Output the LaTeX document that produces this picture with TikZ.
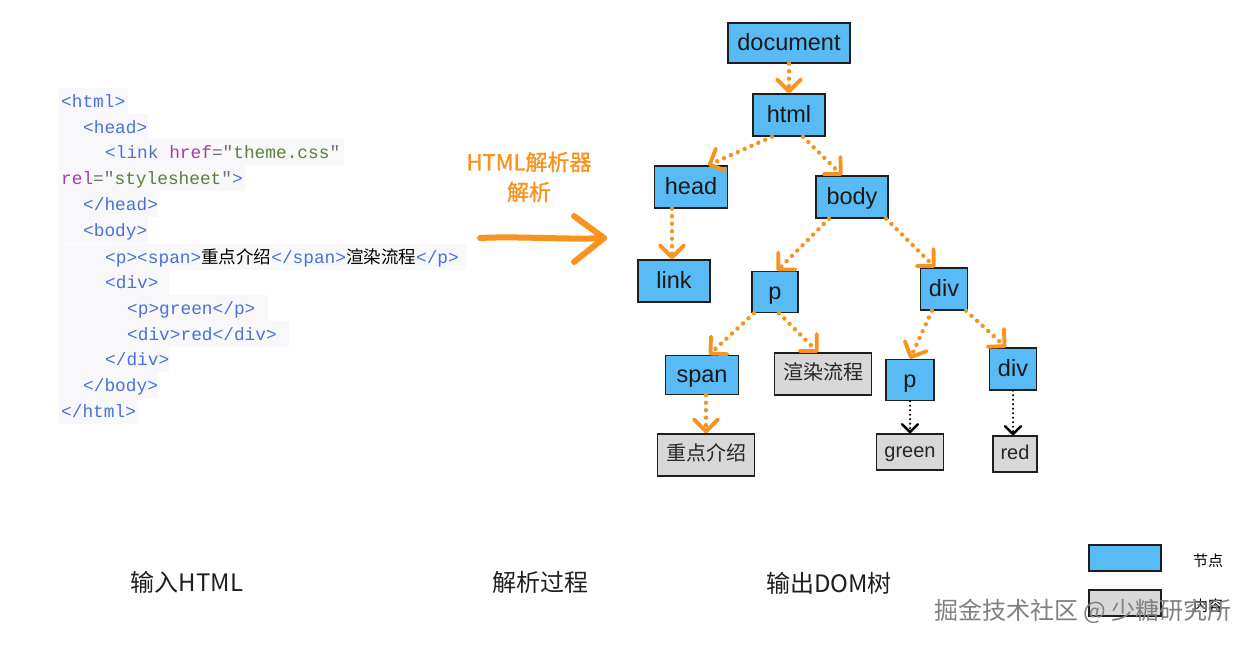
\documentclass[tikz,border=0pt]{standalone}
\usepackage{fontspec}
\setmainfont{Liberation Sans}
\newfontfamily\cjk{Noto Sans CJK SC}
\newfontfamily\cjkbold[FakeBold=1.2]{Noto Sans CJK SC}
\newfontfamily\codefont{Liberation Mono}
\usetikzlibrary{arrows.meta,calc}
\definecolor{boxblue}{HTML}{58BBF5}
\definecolor{boxgray}{HTML}{D8D8D8}
\definecolor{boxline}{HTML}{1E1E1E}
\definecolor{orangeA}{HTML}{F7931E}
\definecolor{tagblue}{HTML}{4A72D6}
\definecolor{attrpurple}{HTML}{A63CA0}
\definecolor{strgreen}{HTML}{5B7F3B}
\definecolor{eqgray}{HTML}{707070}
\definecolor{codebg}{HTML}{F8F8FA}
\newcommand{\tg}[1]{\textcolor{tagblue}{#1}}
\newcommand{\atr}[1]{\textcolor{attrpurple}{#1}}
\newcommand{\stg}[1]{\textcolor{strgreen}{#1}}
\newcommand{\eqg}[1]{\textcolor{eqgray}{#1}}
\newcommand{\cjkc}[1]{{\cjk\fontsize{17.5}{20}\selectfont\textcolor{black}{#1}}}
\tikzset{
  bnode/.style={draw=boxline, line width=1.4pt, fill=boxblue, inner sep=0pt,
    font=\fontsize{23.5}{28}\selectfont, text=black!90, text height=18pt, text depth=4pt},
  gnode/.style={draw=boxline, line width=1.4pt, fill=boxgray, inner sep=0pt,
    font=\fontsize{20}{24}\selectfont, text=black!85, text height=15pt, text depth=4pt},
  gcnode/.style={gnode, font=\cjk\fontsize{20}{24}\selectfont},
  codeline/.style={anchor=base west, inner sep=0pt, font=\codefont\fontsize{17.8}{20}\selectfont},
  oarr/.style={draw=orangeA, line width=4.4pt, dash pattern=on 0pt off 7.5pt, line cap=round,
    -{Straight Barb[length=12pt,width=24pt,line width=3.8pt,round]}},
  karr/.style={draw=black, line width=2.4pt, dash pattern=on 0pt off 4.5pt, line cap=round,
    -{Straight Barb[length=8pt,width=16pt,line width=2.4pt,round]}},
  cjklabel/.style={font=\cjk\fontsize{24}{28}\selectfont, text=black!88, inner sep=0pt},
  olabel/.style={font=\cjkbold\fontsize{22}{26}\selectfont, text=orangeA, inner sep=0pt},
}
\begin{document}
\begin{tikzpicture}[x=1pt,y=-1pt]
\useasboundingbox (0,0) rectangle (1258,646);
\fill[white] (0,0) rectangle (1258,646);

% code backgrounds
\foreach \yy/\xe in {101/128,127/148,152/344,178/245,204/158,230/148,257/466,282/169,308/268,334/289,359/169,385/158,411/138}{
  \fill[codebg] (59,\yy-12.8) rectangle (\xe,\yy+12.8);
}
% code lines
\node[codeline] (c1) at (61,107) {\tg{<html>}};
\node[codeline] (c2) at (83,133) {\tg{<head>}};
\node[codeline] (c3) at (105,158) {\tg{<link} \atr{href}\eqg{="}\stg{theme.css}\eqg{"}};
\node[codeline] (c4) at (61,184) {\atr{rel}\eqg{="}\stg{stylesheet}\eqg{"}\tg{>}};
\node[codeline] (c5) at (83,210) {\tg{</head>}};
\node[codeline] (c6) at (83,236) {\tg{<body>}};
\node[codeline] (c7) at (105,263) {\tg{<p><span>}\cjkc{重点介绍}\tg{</span>}\cjkc{渲染流程}\tg{</p>}};
\node[codeline] (c8) at (105,288) {\tg{<div>}};
\node[codeline] (c9) at (127,314) {\tg{<p>green</p>}};
\node[codeline] (c10) at (127,340) {\tg{<div>red</div>}};
\node[codeline] (c11) at (105,365) {\tg{</div>}};
\node[codeline] (c12) at (83,391) {\tg{</body>}};
\node[codeline] (c13) at (61,417) {\tg{</html>}};

% parser label and big arrow
\node[olabel] (plabel1) at (529,162) {HTML解析器};
\node[olabel] (plabel2) at (529,192) {解析};
\coordinate (bigA) at (480,238);
\coordinate (bigB) at (604,238);
\draw[orangeA, line width=6pt, line cap=round, line join=round]
  (bigA) .. controls (520,236) and (570,240) .. (bigB);
\draw[orangeA, line width=6pt, line cap=round, line join=round]
  ($(bigB)+(-30,-22)$) -- (bigB) -- ($(bigB)+(-30,24)$);

% tree nodes
\node[bnode, minimum width=122pt, minimum height=40pt] (document) at (789,43) {document};
\node[bnode, minimum width=72pt, minimum height=42pt] (html) at (789,115) {html};
\node[bnode, minimum width=73pt, minimum height=42pt] (head) at (691,187) {head};
\node[bnode, minimum width=72pt, minimum height=42pt] (body) at (852,197) {body};
\node[bnode, minimum width=72pt, minimum height=42pt] (link) at (674,281) {link};
\node[bnode, minimum width=46pt, minimum height=41pt] (p) at (775,292) {p};
\node[bnode, minimum width=47pt, minimum height=42pt] (div) at (944,289) {div};
\node[bnode, minimum width=73pt, minimum height=39pt] (span) at (702,375) {span};
\node[gcnode, minimum width=97pt, minimum height=42pt] (render) at (823,374) {渲染流程};
\node[bnode, minimum width=48pt, minimum height=41pt] (p2) at (910,380) {p};
\node[bnode, minimum width=47pt, minimum height=42pt] (div2) at (1013,369) {div};
\node[gcnode, minimum width=97pt, minimum height=42pt] (intro) at (706,455) {重点介绍};
\node[gnode, minimum width=67pt, minimum height=36pt] (green) at (910,452) {green};
\node[gnode, minimum width=44pt, minimum height=36pt] (red) at (1015,454) {red};

% connectors
\draw[oarr] (document.south) -- (html.north);
\draw[oarr] ([xshift=-17pt]html.south) -- ([xshift=17pt]head.north);
\draw[oarr] ([xshift=14pt]html.south) -- ([xshift=-10pt]body.north);
\draw[oarr] ([xshift=-19pt]head.south) -- ([xshift=-2pt]link.north);
\draw[oarr] ([xshift=-23pt]body.south) -- ([xshift=2pt]p.north);
\draw[oarr] ([xshift=34pt]body.south) -- ([xshift=-9pt]div.north);
\draw[oarr] ([xshift=-21pt]p.south) -- ([xshift=7pt]span.north);
\draw[oarr] ([xshift=4pt]p.south) -- ([xshift=-5pt]render.north);
\draw[oarr] ([xshift=-12pt]div.south) -- (p2.north);
\draw[oarr] ([xshift=22pt]div.south) -- ([xshift=-7pt]div2.north);
\draw[oarr] ([xshift=4pt]span.south) -- (intro.north);
\draw[karr] (p2.south) -- (green.north);
\draw[karr] (div2.south) -- ([xshift=-2pt]red.north);

% bottom labels
\node[cjklabel] (lin) at (187,582) {输入HTML};
\node[cjklabel] (lproc) at (540,582) {解析过程};
\node[cjklabel] (lout) at (829,583) {输出DOM树};

% legend
\node[draw=boxline, line width=1.4pt, fill=boxblue, minimum width=72pt, minimum height=26pt, inner sep=0pt] (legA) at (1125,558) {};
\node[font=\cjk\fontsize{15}{18}\selectfont, inner sep=0pt] (legAt) at (1208,561) {节点};
\node[draw=boxline, line width=1.4pt, fill=boxgray, minimum width=72pt, minimum height=26pt, inner sep=0pt] (legB) at (1125,603) {};
\node[font=\cjk\fontsize{15}{18}\selectfont, inner sep=0pt] (legBt) at (1208,606) {内容};

% watermark
\node[font=\cjk\fontsize{24}{28}\selectfont, text=black!50, inner sep=0pt] (wm) at (1083,611) {掘金技术社区 @ 少糖研究所};
\end{tikzpicture}
\end{document}
